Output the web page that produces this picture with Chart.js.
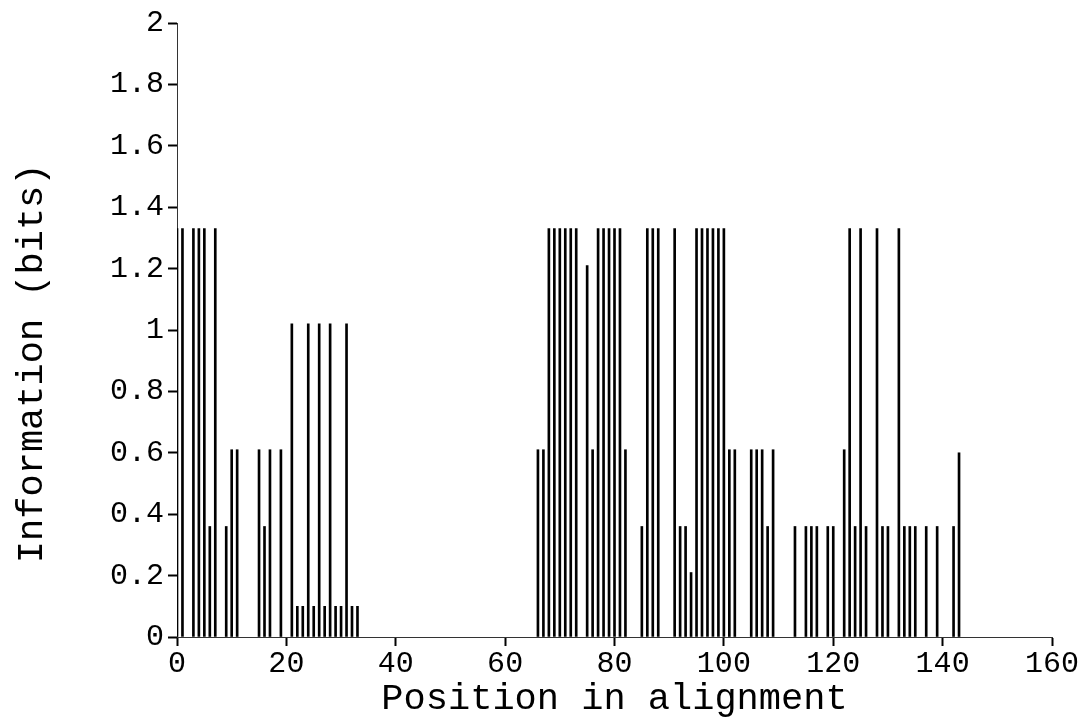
<!DOCTYPE html>
<html>
<head>
<meta charset="utf-8">
<script src="https://cdn.jsdelivr.net/npm/chart.js@4.4.1/dist/chart.umd.min.js"></script>
<style>
  html, body { margin: 0; padding: 0; background: #fff; }
  #wrap { width: 1082px; height: 723px; }
</style>
</head>
<body>
<div id="wrap"><canvas id="infoChart" width="1082" height="723"></canvas></div>
<script>
'use strict';

// alignment positions that carry a bar, and the information value at each
const positions = [
    0, 1, 3, 4, 5, 6, 7, 9, 10, 11,
    15, 16, 17, 19, 21, 22, 23, 24, 25, 26,
    27, 28, 29, 30, 31, 32, 33,
    66, 67, 68, 69, 70, 71, 72, 73, 75, 76,
    77, 78, 79, 80, 81, 82, 85, 86, 87, 88,
    91, 92, 93, 94, 95, 96, 97, 98, 99, 100,
    101, 102, 105, 106, 107, 108, 109,
    113, 115, 116, 117, 119, 120, 122, 123, 124, 125,
    126, 128, 129, 130, 132, 133, 134, 135, 137, 139,
    142, 143
];
const bits = [
    1.33, 1.33, 1.33, 1.33, 1.33, 0.36, 1.33, 0.36, 0.61, 0.61,
    0.61, 0.36, 0.61, 0.61, 1.02, 0.10, 0.10, 1.02, 0.10, 1.02,
    0.10, 1.02, 0.10, 0.10, 1.02, 0.10, 0.10,
    0.61, 0.61, 1.33, 1.33, 1.33, 1.33, 1.33, 1.33, 1.21, 0.61,
    1.33, 1.33, 1.33, 1.33, 1.33, 0.61, 0.36, 1.33, 1.33, 1.33,
    1.33, 0.36, 0.36, 0.21, 1.33, 1.33, 1.33, 1.33, 1.33, 1.33,
    0.61, 0.61, 0.61, 0.61, 0.61, 0.36, 0.61,
    0.36, 0.36, 0.36, 0.36, 0.36, 0.36, 0.61, 1.33, 0.36, 1.33,
    0.36, 1.33, 0.36, 0.36, 1.33, 0.36, 0.36, 0.36, 0.36, 0.36,
    0.36, 0.60
];
const xTicks = [0, 20, 40, 60, 80, 100, 120, 140, 160];
const yTicks = [0, 0.2, 0.4, 0.6, 0.8, 1, 1.2, 1.4, 1.6, 1.8, 2];

const mono = 'Liberation Mono';

const ctx = document.getElementById('infoChart').getContext('2d');
new Chart(ctx, {
    type: 'bar',
    data: {
        datasets: [{
            data: positions.map((p, i) => ({ x: p, y: bits[i] })),
            backgroundColor: '#000',
            borderWidth: 0,
            barThickness: 2
        }]
    },
    options: {
        responsive: false,
        animation: false,
        layout: { padding: { left: 10, right: 30, top: 23, bottom: 2 } },
        plugins: {
            legend: { display: false },
            tooltip: { enabled: false }
        },
        scales: {
            x: {
                type: 'linear',
                min: 0,
                max: 160,
                offset: false,
                afterBuildTicks: scale => { scale.ticks = xTicks.map(v => ({ value: v })); },
                afterFit: scale => { scale.height = 84; },
                ticks: {
                    color: '#000',
                    padding: 0,
                    font: { family: mono, size: 30 }
                },
                grid: {
                    drawOnChartArea: false,
                    offset: false,
                    tickLength: 9,
                    tickWidth: 2,
                    tickColor: '#000'
                },
                border: { color: '#333', width: 1, dash: [1, 3] },
                title: {
                    display: true,
                    text: 'Position in alignment',
                    color: '#000',
                    padding: { top: 10, bottom: 0 },
                    font: { family: mono, size: 37 }
                }
            },
            y: {
                min: 0,
                max: 2,
                afterBuildTicks: scale => { scale.ticks = yTicks.map(v => ({ value: v })); },
                afterFit: scale => { scale.width = 167; },
                ticks: {
                    color: '#000',
                    padding: 4,
                    font: { family: mono, size: 30 },
                    callback: v => String(Number(v.toFixed(1)))
                },
                grid: {
                    drawOnChartArea: false,
                    tickLength: 9,
                    tickWidth: 2,
                    tickColor: '#000'
                },
                border: { color: '#333', width: 1, dash: [1, 3] },
                title: {
                    display: true,
                    text: 'Information (bits)   ',
                    color: '#000',
                    padding: { top: 0, bottom: 10 },
                    font: { family: mono, size: 37 }
                }
            }
        }
    }
});
</script>
</body>
</html>
